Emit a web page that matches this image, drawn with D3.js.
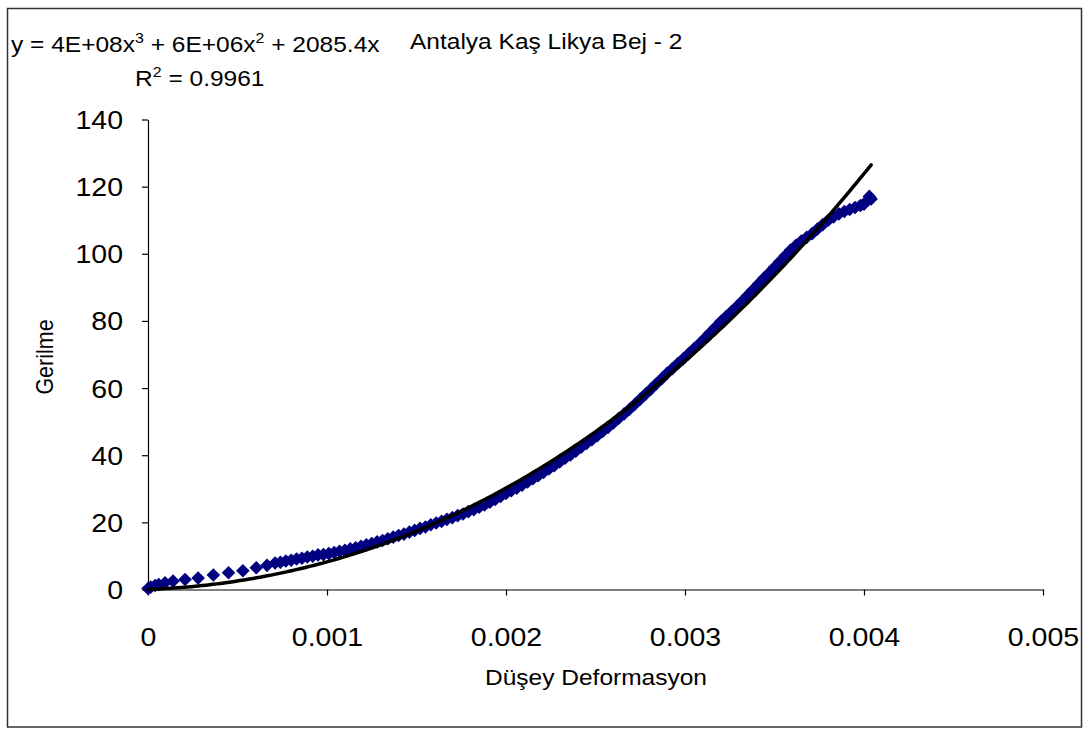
<!DOCTYPE html>
<html>
<head>
<meta charset="utf-8">
<script src="https://cdn.jsdelivr.net/npm/d3@7"></script>
<style>
  html, body { margin: 0; padding: 0; background: #fff; }
  svg { display: block; font-family: "Liberation Sans", Arial, sans-serif; }
</style>
</head>
<body>
<svg id="chart" width="1091" height="729"></svg>
<script>
// Vertical deformation (strain) readings, in thousandths
const strain = [
  0.0, 0.015, 0.04, 0.06, 0.095, 0.14, 0.207, 0.28, 0.365, 0.45, 0.53, 0.605, 0.665, 0.71,
  0.74, 0.77, 0.80, 0.83, 0.86, 0.89, 0.92, 0.95, 0.98, 1.01, 1.04, 1.07, 1.10, 1.13, 1.16, 1.19,
  1.22, 1.25, 1.28, 1.31, 1.34, 1.37, 1.40, 1.43, 1.46, 1.49, 1.52, 1.55, 1.58, 1.61, 1.64, 1.67,
  1.70, 1.73, 1.76, 1.79, 1.82, 1.85, 1.88, 1.91, 1.94, 1.97, 2.00, 2.03, 2.06, 2.09, 2.12, 2.15,
  2.18, 2.21, 2.24, 2.27, 2.30, 2.33, 2.36, 2.39, 2.42, 2.45, 2.48, 2.51, 2.54, 2.57, 2.60, 2.63,
  2.66, 2.69, 2.72, 2.75, 2.78, 2.81, 2.84, 2.87, 2.90, 2.93, 2.96, 2.99, 3.02, 3.05, 3.08, 3.11,
  3.14, 3.17, 3.20, 3.23, 3.26, 3.29, 3.32, 3.35, 3.38, 3.41, 3.44, 3.47, 3.50, 3.53, 3.56, 3.59,
  3.62, 3.65, 3.68, 3.71, 3.74, 3.77, 3.80, 3.83, 3.86, 3.89, 3.92, 3.95, 3.98, 4.00, 4.02, 4.03, 4.04
].map(v => v / 1000);

// Stress readings
const stress = [
  0.3, 0.7, 1.2, 1.5, 2.0, 2.5, 3.0, 3.4, 4.3, 5.0, 5.6, 6.5, 7.2, 7.9,
  8.1, 8.5, 8.7, 9.1, 9.3, 9.7, 9.9, 10.3, 10.4, 10.7, 11.0, 11.4, 11.7, 12.1, 12.4, 12.9,
  13.3, 13.7, 14.2, 14.6, 15.1, 15.6, 16.1, 16.5, 17.1, 17.6, 18.2, 18.6, 19.3, 19.8, 20.3, 20.9,
  21.4, 22.0, 22.5, 23.2, 23.8, 24.5, 25.2, 26.0, 26.8, 27.7, 28.6, 29.4, 30.2, 31.1, 32.0, 33.0,
  33.9, 34.9, 35.9, 36.9, 38.0, 39.1, 40.1, 41.2, 42.4, 43.5, 44.6, 45.8, 47.1, 48.3, 49.6, 51.0,
  52.3, 53.7, 55.2, 56.7, 58.2, 59.7, 61.3, 62.8, 64.4, 65.8, 67.3, 68.7, 70.2, 71.7, 73.2, 74.8,
  76.5, 78.1, 79.8, 81.3, 82.8, 84.3, 85.9, 87.6, 89.3, 91.0, 92.7, 94.3, 96.0, 97.7, 99.4, 101.1,
  102.5, 103.8, 104.9, 106.0, 107.4, 108.7, 110.0, 111.0, 111.9, 112.6, 113.2, 113.8, 114.4, 114.8, 115.9, 117.1, 116.3
];

// Polynomial trendline (order 3, through origin): a*x^3 + b*x^2 + c*x
const trendCoef = [3.55e8, 5.8e6, 2085.4];
const rSquared = 0.9961;

const xTicks = [0, 0.001, 0.002, 0.003, 0.004, 0.005];
const yTicks = [0, 20, 40, 60, 80, 100, 120, 140];

const chartTitle = "Antalya Kaş Likya Bej - 2";
const xTitle = "Düşey Deformasyon";
const yTitle = "Gerilme";

const FONT = "'Liberation Sans', Arial, sans-serif";
const WIDEN = 1.14; // horizontal widening applied to all text

const svg = d3.select("#chart");

// outer frame
svg.append("rect")
  .attr("x", 7.5).attr("y", 8.5)
  .attr("width", 1074).attr("height", 718.5)
  .attr("fill", "#fff").attr("stroke", "#333").attr("stroke-width", 1.5);

const x = d3.scaleLinear().domain([0, 0.005]).range([148, 1043]);
const y = d3.scaleLinear().domain([0, 140]).range([589.5, 119.5]);

// axes
const xAxis = d3.axisBottom(x).tickValues(xTicks).tickSize(6).tickSizeOuter(0)
  .tickFormat(d => d === 0 ? "0" : String(+d.toFixed(3)));
const yAxis = d3.axisLeft(y).tickValues(yTicks).tickSize(6).tickSizeOuter(0)
  .tickFormat(d3.format("d"));

const gx = svg.append("g").attr("transform", `translate(0,${y(0)})`).call(xAxis);
const gy = svg.append("g").attr("transform", `translate(${x(0)},0)`).call(yAxis);

[gx, gy].forEach(g => {
  g.select(".domain").attr("stroke", "#000").attr("stroke-width", 1.2);
  g.selectAll(".tick line").attr("stroke", "#000").attr("stroke-width", 1.2);
  g.selectAll(".tick text")
    .attr("font-family", FONT)
    .attr("font-size", 25).attr("fill", "#000");
});
gx.selectAll(".tick text")
  .attr("y", null).attr("dy", null)
  .attr("transform", `translate(0,56) scale(${WIDEN},1)`);
gy.selectAll(".tick text")
  .attr("x", null).attr("dy", null)
  .attr("transform", `translate(-25,9) scale(${WIDEN},1)`);

// data markers (diamonds)
const pts = strain.map((s, i) => [s, stress[i]]);
const r = 6.8;
svg.append("g").selectAll("path")
  .data(pts)
  .join("path")
  .attr("transform", d => `translate(${x(d[0])},${y(d[1])})`)
  .attr("d", `M0,${-r}L${r},0L0,${r}L${-r},0Z`)
  .attr("fill", "#000080");

// trendline evaluated across the data range
const poly = t => trendCoef[0] * t ** 3 + trendCoef[1] * t ** 2 + trendCoef[2] * t;
const xMax = d3.max(strain);
const trendPts = d3.range(0, 201).map(i => {
  const t = xMax * i / 200;
  return [t, poly(t)];
});
svg.append("path")
  .datum(trendPts)
  .attr("fill", "none")
  .attr("stroke", "#000")
  .attr("stroke-width", 3.5)
  .attr("stroke-linejoin", "round")
  .attr("stroke-linecap", "round")
  .attr("d", d3.line().x(d => x(d[0])).y(d => y(d[1])));

// Excel-style coefficient formatting
const fmtCoef = v => Math.abs(v) >= 1e5
  ? v.toExponential(0).replace(/e([+-])(\d)$/, "E$10$2").replace("e", "E")
  : String(+v.toFixed(1));

// widened text placed at (px, py)
function label(px, py, size, anchor) {
  return svg.append("text")
    .attr("transform", `translate(${px},${py}) scale(${WIDEN},1)`)
    .attr("font-family", FONT)
    .attr("font-size", size)
    .attr("text-anchor", anchor || "start")
    .attr("fill", "#000");
}

const SMALL = 21.5;
const SUP = 14;

// trendline equation label
const eq = label(11, 52, SMALL);
eq.append("tspan").text(`y = ${fmtCoef(trendCoef[0])}x`);
eq.append("tspan").attr("dy", -9).attr("font-size", SUP).text("3");
eq.append("tspan").attr("dy", 9).text(` + ${fmtCoef(trendCoef[1])}x`);
eq.append("tspan").attr("dy", -9).attr("font-size", SUP).text("2");
eq.append("tspan").attr("dy", 9).text(` + ${fmtCoef(trendCoef[2])}x`);

const r2 = label(135, 86, SMALL);
r2.append("tspan").text("R");
r2.append("tspan").attr("dy", -9).attr("font-size", SUP).text("2");
r2.append("tspan").attr("dy", 9).text(` = ${rSquared}`);

// chart title
label(410, 49, SMALL).text(chartTitle);

// axis titles
label(596, 685, SMALL, "middle").text(xTitle);
svg.append("text")
  .attr("transform", `translate(53,357) scale(${WIDEN},1) rotate(-90)`)
  .attr("font-family", FONT)
  .attr("text-anchor", "middle").attr("font-size", SMALL).attr("fill", "#000").text(yTitle);
</script>
</body>
</html>
